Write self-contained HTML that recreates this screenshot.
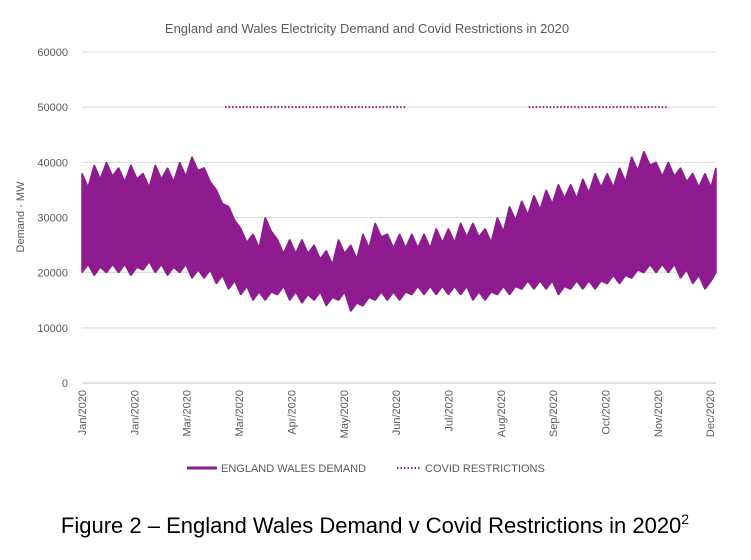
<!DOCTYPE html>
<html><head><meta charset="utf-8"><style>
body{margin:0;background:#fff;width:751px;height:555px;overflow:hidden;font-family:"Liberation Sans",sans-serif}
</style></head><body>
<svg width="751" height="555">
<text x="367" y="33" text-anchor="middle" font-size="13" fill="#595959">England and Wales Electricity Demand and Covid Restrictions in 2020</text>
<g id="grid"></g><g id="yt"></g><g id="xt"></g><g id="series"></g>
<text transform="translate(24,217) rotate(-90)" text-anchor="middle" font-size="11" fill="#595959">Demand - MW</text>
<g>
<line x1="187" y1="468" x2="217" y2="468" stroke="#8e1b8f" stroke-width="3"/>
<text x="221" y="472" font-size="11" fill="#595959">ENGLAND WALES DEMAND</text>
<line x1="397" y1="468" x2="421" y2="468" stroke="#8e1b8f" stroke-width="2" stroke-dasharray="1.5,2"/>
<text x="425" y="472" font-size="11" fill="#595959">COVID RESTRICTIONS</text>
</g>
<text x="375" y="533" text-anchor="middle" font-size="22" fill="#000">Figure 2 – England Wales Demand v Covid Restrictions in 2020<tspan font-size="14" dy="-9">2</tspan></text>
</svg>
<script>
const yTicks=[0,10000,20000,30000,40000,50000,60000];
const xLabels=["Jan/2020","Jan/2020","Mar/2020","Mar/2020","Apr/2020","May/2020","Jun/2020","Jul/2020","Aug/2020","Sep/2020","Oct/2020","Nov/2020","Dec/2020"];
const xLabelDays=[0,30,60,90,120,150,180,210,240,270,300,330,360];
const weeklyHigh=[38,39.5,40,39,39.5,38,39.5,39,40,41,39,35,32,28,27,30,26,26,26,25,24,26,25,27,29,27,27,27,27,28,28,29,29,28,30,32,33,34,35,36,36,37,38,38,39,41,42,40,40,39,38,38,39];
const weeklyLow=[20,19.5,20,20,19.5,20.5,20,19.5,20,19,19,18,17,16,15,15,16,15,14.5,15,14,15,13,14,15,15,15,16,16,16,16,16,15,15,16,16,17,17,17,16,17,17,17,18,18,19,20,20,20,19,18,17,20];
const covidStart=[82,256];
const covidEnd=[186,335];
const covidLevel=50000;
const NS="http://www.w3.org/2000/svg";
const X=d=>Math.min(716,82+d*1.745);
const Y=v=>383-v*(331/60000);
function mk(t,a,p){const e=document.createElementNS(NS,t);for(const k in a)e.setAttribute(k,a[k]);p.appendChild(e);return e;}
const g=document.getElementById('grid'),yt=document.getElementById('yt'),xt=document.getElementById('xt'),s=document.getElementById('series');
yTicks.forEach(v=>{
 const l=mk('line',{x1:82,x2:716,y1:Y(v),y2:Y(v),stroke:v?'#d9d9d9':'#bfbfbf','stroke-width':1},g);
 
 
 const t=mk('text',{x:68,y:Y(v)+4,'text-anchor':'end','font-size':11,fill:'#595959'},yt);
 t.textContent=v;
 
 
});
xLabels.forEach((lab,i)=>{
 const x=X(xLabelDays[i]);
 const t=mk('text',{transform:`translate(${x+4},390) rotate(-90)`,'text-anchor':'end','font-size':11,fill:'#595959'},xt);
 t.textContent=lab;
 
 
});
let pts=[];
weeklyHigh.forEach((v,i)=>{pts.push([X(i*7),Y(v*1000)]);pts.push([X(i*7+3.5),Y(v*1000-2500)]);});
for(let i=weeklyLow.length-1;i>=0;i--){pts.push([X(i*7+3.5),Y(weeklyLow[i]*1000+1500)]);pts.push([X(i*7),Y(weeklyLow[i]*1000)]);}
const poly=mk('polygon',{points:pts.map(p=>p.join(',')).join(' '),fill:'#8e1b8f',stroke:'#8e1b8f','stroke-width':1.5,'stroke-linejoin':'bevel'},s);


covidStart.forEach((d,i)=>{
 const l=mk('line',{x1:X(d),x2:X(covidEnd[i]),y1:Y(covidLevel),y2:Y(covidLevel),stroke:'#8e1b8f','stroke-width':2,'stroke-dasharray':'1.5,2'},s);
 
 
});
</script>
</body></html>
